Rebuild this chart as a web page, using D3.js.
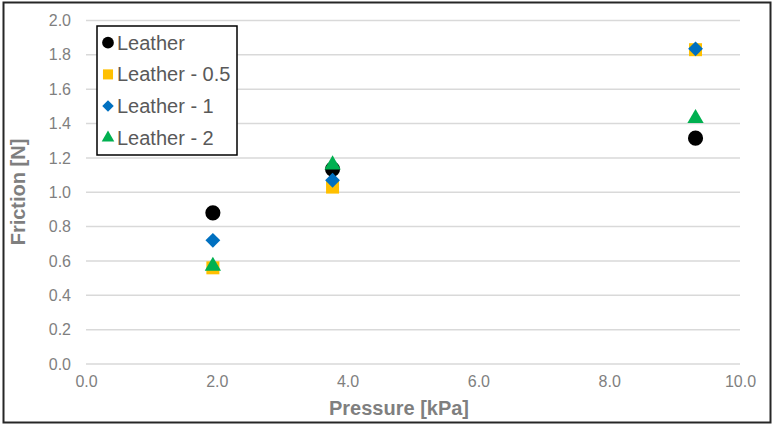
<!DOCTYPE html>
<html>
<head>
<meta charset="utf-8">
<script src="https://cdn.jsdelivr.net/npm/d3@7"></script>
<style>
  body { margin: 0; background: #fff; }
  text { font-family: "Liberation Sans", Arial, sans-serif; }
</style>
</head>
<body>
<script>
// データ
const pressure = [1.94, 3.77, 9.32];
const seriesNames = ["Leather", "Leather - 0.5", "Leather - 1", "Leather - 2"];
const leather   = [0.88, 1.135, 1.315];
const leather05 = [0.56, 1.03, 1.83];
const leather1  = [0.72, 1.07, 1.835];
const leather2  = [0.57, 1.16, 1.43];
const xTicks = [0, 2, 4, 6, 8, 10];
const yTicks = [0, 0.2, 0.4, 0.6, 0.8, 1.0, 1.2, 1.4, 1.6, 1.8, 2.0];

const width = 775, height = 427;
const svg = d3.select("body").append("svg")
  .attr("width", width).attr("height", height);

// 外枠
svg.append("rect")
  .attr("x", 3.5).attr("y", 2.5).attr("width", 767).attr("height", 420)
  .attr("fill", "#fff").attr("stroke", "#262626").attr("stroke-width", 2);

const x = d3.scaleLinear().domain([0, 10]).range([86, 740]);
const y = d3.scaleLinear().domain([0, 2]).range([364, 20.5]);

// グリッド線
svg.append("g").selectAll("line").data(yTicks).join("line")
  .attr("x1", x(0)).attr("x2", x(10))
  .attr("y1", d => y(d)).attr("y2", d => y(d))
  .attr("stroke", "#d9d9d9").attr("stroke-width", 1.5);

// 軸ラベル
const yAxis = d3.axisLeft(y).tickValues(yTicks).tickFormat(d3.format(".1f")).tickSize(0).tickPadding(0);
const gy = svg.append("g").attr("transform", "translate(71,0)").call(yAxis);
const xAxis = d3.axisBottom(x).tickValues(xTicks).tickFormat(d3.format(".1f")).tickSize(0).tickPadding(0);
const gx = svg.append("g").attr("transform", "translate(0,376)").call(xAxis);
[gx, gy].forEach(g => {
  g.select(".domain").remove();
  g.selectAll("text").attr("fill", "#7f7f7f").style("font-size", "16px")
    .style("font-family", "'Liberation Sans', Arial, sans-serif");
});

// 軸タイトル
svg.append("text").attr("x", 399).attr("y", 415).attr("text-anchor", "middle")
  .attr("fill", "#7f7f7f").style("font-size", "20px").style("font-weight", "bold")
  .text("Pressure [kPa]");
svg.append("text").attr("transform", "translate(25,192) rotate(-90)").attr("text-anchor", "middle")
  .attr("fill", "#7f7f7f").style("font-size", "20px").style("font-weight", "bold")
  .text("Friction [N]");

// マーカー
const series = [
  { name: seriesNames[0], values: leather,   color: "#000000", symbol: d3.symbolCircle,   size: 180 },
  { name: seriesNames[1], values: leather05, color: "#FFC000", symbol: d3.symbolSquare,   size: 169 },
  { name: seriesNames[2], values: leather1,  color: "#0070C0", symbol: d3.symbolDiamond2, size: 140 },
  { name: seriesNames[3], values: leather2,  color: "#00B050", symbol: d3.symbolTriangle, size: 115 }
];

series.forEach(s => {
  svg.append("g").selectAll("path").data(s.values).join("path")
    .attr("transform", (d, i) => `translate(${x(pressure[i])},${y(d)})`)
    .attr("d", d3.symbol().type(s.symbol).size(s.size))
    .attr("fill", s.color);
});

// 凡例
const legend = svg.append("g");
legend.append("rect").attr("x", 97).attr("y", 26).attr("width", 140).attr("height", 129)
  .attr("fill", "#fff").attr("stroke", "#000").attr("stroke-width", 1.5);
series.forEach((s, i) => {
  const cy = 42.7 + i * 31.7;
  legend.append("path")
    .attr("transform", `translate(108,${cy})`)
    .attr("d", d3.symbol().type(s.symbol).size(s.size * 0.6))
    .attr("fill", s.color);
  legend.append("text").attr("x", 117).attr("y", cy + 7)
    .attr("fill", "#595959").style("font-size", "20px").text(s.name);
});
</script>
</body>
</html>
